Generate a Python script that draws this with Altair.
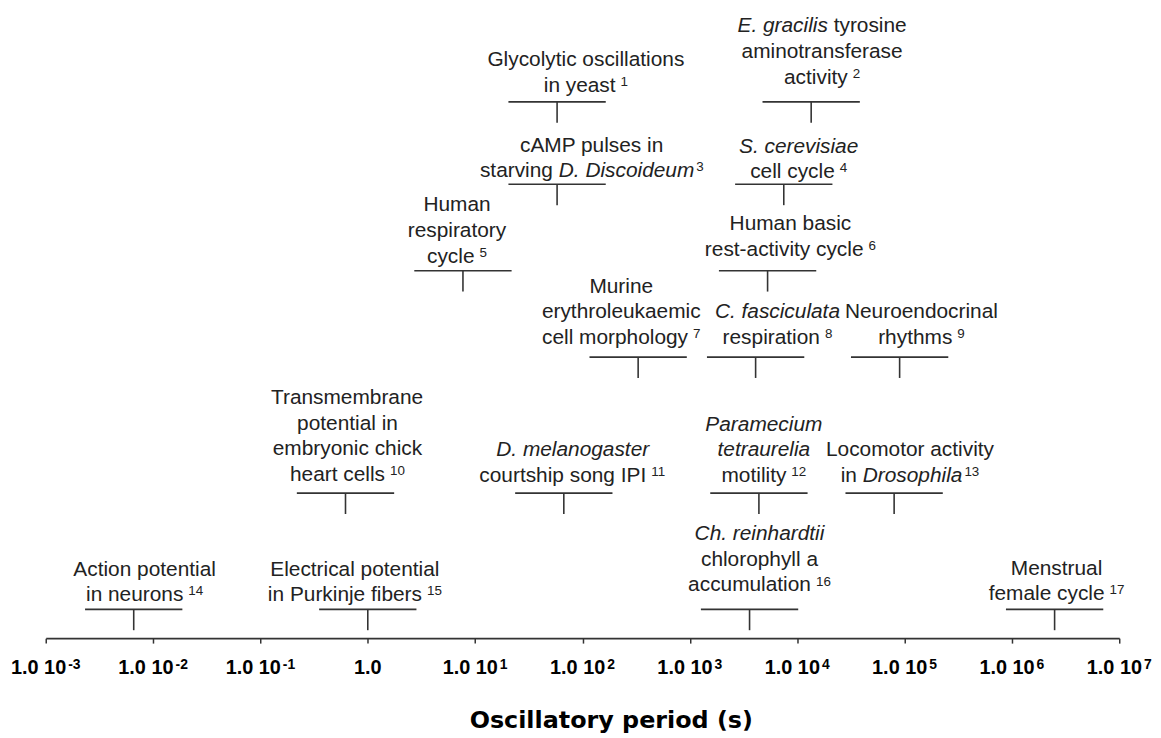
import altair as alt
import pandas as pd

# ---------------- data ----------------
refs = list(range(1, 18))
labels = [
    "Glycolytic oscillations|in yeast",
    "*E. gracilis* tyrosine|aminotransferase|activity",
    "cAMP pulses in|starving *D. Discoideum*",
    "*S. cerevisiae*|cell cycle",
    "Human|respiratory|cycle",
    "Human basic|rest-activity cycle",
    "Murine|erythroleukaemic|cell morphology",
    "*C. fasciculata*|respiration",
    "Neuroendocrinal|rhythms",
    "Transmembrane|potential in|embryonic chick|heart cells",
    "*D. melanogaster*|courtship song IPI",
    "*Paramecium*|*tetraurelia*|motility",
    "Locomotor activity|in *Drosophila*",
    "Action potential|in neurons",
    "Electrical potential|in Purkinje fibers",
    "*Ch. reinhardtii*|chlorophyll a|accumulation",
    "Menstrual|female cycle",
]
period_s = [58, 13500, 58, 7500, 7.7, 5300, 330, 4100, 90000,
            0.62, 67, 4400, 80000, 0.0066, 1.0, 3600, 2.5e6]
tier = [5, 5, 4, 4, 3, 3, 2, 2, 2, 1, 1, 1, 1, 0, 0, 0, 0]

tick_values = [1e-3, 1e-2, 1e-1, 1, 1e1, 1e2, 1e3, 1e4, 1e5, 1e6, 1e7]
tick_base = ["1.0 10", "1.0 10", "1.0 10", "1.0", "1.0 10", "1.0 10",
             "1.0 10", "1.0 10", "1.0 10", "1.0 10", "1.0 10"]
tick_exp = ["-3", "-2", "-1", "", "1", "2", "3", "4", "5", "6", "7"]

# ---------------- layout / style ----------------
W, H = 1081, 632
PX_PER_DECADE = W / 10.0
label_dx = [29, 11, 35, 15, -6, 23, -17, 22, 22, 2, 9, 5, 16, 11, -13, 10, 2]
label_gap = [10, 18, 7, 6, 8, 15, 13, 13, 13, 12, 11, 11, 11, 8, 8, 18, 9]
# height above the axis line (px) of each tier; tier -1 = tick-label baseline
tier_lift = {-1: -36, 0: 29, 1: 146, 2: 283, 3: 370, 4: 457, 5: 540}

FONT = "Liberation Sans"
FS = 21
SUP_FS = 13.5
SUP_RAISE = 6
LINE_H = 26
TICK_FS = 20
TICK_SUP_FS = 14
LINE = "#333333"
TXT = "#222222"

ARIAL = {
    " ": 278, "!": 278, "(": 333, ")": 333, ",": 278, "-": 333, ".": 278,
    "0": 556, "1": 556, "2": 556, "3": 556, "4": 556, "5": 556, "6": 556,
    "7": 556, "8": 556, "9": 556,
    "A": 667, "B": 667, "C": 722, "D": 722, "E": 667, "F": 611, "G": 778,
    "H": 722, "I": 278, "J": 500, "K": 667, "L": 556, "M": 833, "N": 722,
    "O": 778, "P": 667, "Q": 778, "R": 722, "S": 667, "T": 611, "U": 722,
    "V": 667, "W": 944, "X": 667, "Y": 667, "Z": 611,
    "a": 556, "b": 556, "c": 500, "d": 556, "e": 556, "f": 278, "g": 556,
    "h": 556, "i": 222, "j": 222, "k": 500, "l": 222, "m": 833, "n": 556,
    "o": 556, "p": 556, "q": 556, "r": 333, "s": 500, "t": 278, "u": 556,
    "v": 500, "w": 722, "x": 500, "y": 500, "z": 500,
}


def tw(s, size):
    return sum(ARIAL.get(c, 556) for c in s) * size / 1000.0


def shift(v, dx):
    # move a value along the log axis by dx pixels
    return v * 10 ** (dx / PX_PER_DECADE)


items = pd.DataFrame({"period": period_s,
                      "lift": [tier_lift[t] for t in tier]})

rows = []
for i, lab in enumerate(labels):
    lines = lab.split("|")
    nl = len(lines)
    base_lift = tier_lift[tier[i]]
    for k, line in enumerate(lines):
        parts = line.split("*")
        segs = [(p, "i" if j % 2 else "n") for j, p in enumerate(parts) if p]
        sup = str(refs[i]) if k == nl - 1 else None
        total = sum(tw(t, FS) for t, _ in segs)
        gap = 0
        if sup:
            gap = 2 if segs[-1][1] == "i" else 5
            total += gap + tw(sup, SUP_FS)
        cursor = label_dx[i] - total / 2.0
        up = label_gap[i] + (nl - 1 - k) * LINE_H
        for t, st in segs:
            lead = len(t) - len(t.lstrip(" "))
            rows.append(dict(period=shift(period_s[i], cursor + tw(" " * lead, FS)),
                             lift=base_lift + up, text=t.strip(" "), style=st))
            cursor += tw(t, FS)
        if sup:
            cursor += gap
            rows.append(dict(period=shift(period_s[i], cursor),
                             lift=base_lift + up + SUP_RAISE, text=sup, style="s"))

for v, b, e in zip(tick_values, tick_base, tick_exp):
    wb = tw(b, TICK_FS)
    we = tw(e, TICK_SUP_FS) if e else 0
    g = 2 if e else 0
    total = wb + g + we
    rows.append(dict(period=shift(v, -total / 2.0), lift=tier_lift[-1],
                     text=b, style="tb"))
    if e:
        rows.append(dict(period=shift(v, -total / 2.0 + wb + g),
                         lift=tier_lift[-1] + 5, text=e, style="ts"))

seg = pd.DataFrame(rows)

# ---------------- encodings ----------------
X = alt.X(
    "period:Q",
    scale=alt.Scale(type="log", domain=[1e-3, 1e7], nice=False),
    axis=alt.Axis(
        values=tick_values, labels=False, grid=False,
        ticks=True, tickSize=5, tickWidth=1.5, tickColor=LINE,
        domainColor=LINE, domainWidth=1.6,
        title="Oscillatory period (s)", titleFont="DejaVu Sans",
        titleFontSize=24, titleFontWeight="bold", titleColor="#000000",
        titleX=569, titleY=90, titleBaseline="alphabetic", titleAlign="center",
    ),
)
Y = alt.Y("lift:Q", scale=alt.Scale(domain=[0, H], zero=False, nice=False),
          axis=None)

bars = alt.Chart(items).mark_tick(
    orient="horizontal", size=98, thickness=1.6, color=LINE, opacity=1
).encode(x=X, y=Y)

stems = alt.Chart(items).mark_tick(
    orient="vertical", size=21, thickness=1.6, color=LINE, opacity=1, yOffset=10.5
).encode(x=X, y=Y)


def text_layer(style, **mk):
    return alt.Chart(seg[seg["style"] == style]).mark_text(
        align="left", baseline="alphabetic", **mk
    ).encode(x=X, y=Y, text="text:N")


t_norm = text_layer("n", font=FONT, fontSize=FS, color=TXT)
t_ital = text_layer("i", font=FONT, fontSize=FS, fontStyle="italic", color=TXT)
t_sup = text_layer("s", font=FONT, fontSize=SUP_FS, color=TXT)
t_tb = text_layer("tb", font=FONT, fontSize=TICK_FS, fontWeight="bold", color="#000000")
t_ts = text_layer("ts", font=FONT, fontSize=TICK_SUP_FS, fontWeight="bold", color="#000000")

chart = alt.layer(bars, stems, t_norm, t_ital, t_sup, t_tb, t_ts).properties(
    width=W, height=H,
    autosize=alt.AutoSizeParams(type="none"),
    padding={"left": 38, "top": 0, "right": 34, "bottom": 98},
    background="white",
).configure_view(stroke=None)

chart.save("out.html", embed_options={"renderer": "svg", "actions": False})
